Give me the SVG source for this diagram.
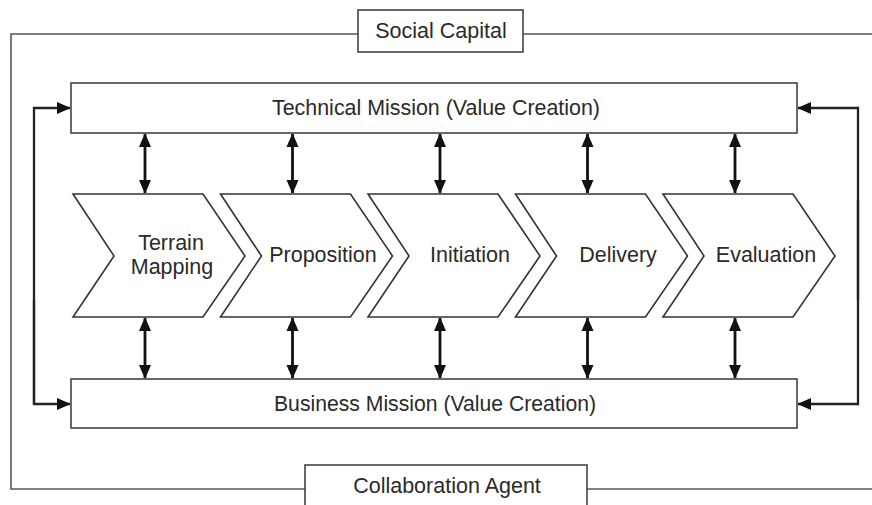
<svg xmlns="http://www.w3.org/2000/svg" width="872" height="505" viewBox="0 0 872 505">
<defs>
<style>
.frame{fill:none;stroke:#555;stroke-width:1.6}
.box{fill:#fff;stroke:#444;stroke-width:1.6}
.chev{fill:#fff;stroke:#333;stroke-width:1.6}
.t{font-family:"Liberation Sans",Arial,sans-serif;font-size:21.5px;fill:#2a2a2a;text-anchor:middle}
.arr{fill:none;stroke:#111;stroke-width:2.8}
.fb{fill:none;stroke:#222;stroke-width:2.3}
</style>
<marker id="ah" viewBox="0 0 12 14" refX="13" refY="7" markerWidth="12" markerHeight="14" markerUnits="userSpaceOnUse" orient="auto-start-reverse">
<path d="M0,1 L14,7 L0,13 Z" fill="#111"/>
</marker>
</defs>
<rect width="872" height="505" fill="#fff"/>
<g id="connectors">
<path class="frame" d="M358,34 H11 V489 H305"/>
<path class="frame" d="M523,34 H872"/>
<path class="frame" d="M587,489 H872"/>
<path class="fb" d="M34,404 V108 H70" marker-end="url(#ah)"/>
<path class="fb" d="M34,300 V404 H70" marker-end="url(#ah)"/>
<path class="fb" d="M858,300 V108 H798" marker-end="url(#ah)"/>
<path class="fb" d="M858,200 V404 H798" marker-end="url(#ah)"/>
<line class="arr" x1="145" y1="134" x2="145" y2="193" marker-start="url(#ah)" marker-end="url(#ah)"/>
<line class="arr" x1="292.5" y1="134" x2="292.5" y2="193" marker-start="url(#ah)" marker-end="url(#ah)"/>
<line class="arr" x1="440" y1="134" x2="440" y2="193" marker-start="url(#ah)" marker-end="url(#ah)"/>
<line class="arr" x1="587.5" y1="134" x2="587.5" y2="193" marker-start="url(#ah)" marker-end="url(#ah)"/>
<line class="arr" x1="735" y1="134" x2="735" y2="193" marker-start="url(#ah)" marker-end="url(#ah)"/>
<line class="arr" x1="145" y1="318" x2="145" y2="378" marker-start="url(#ah)" marker-end="url(#ah)"/>
<line class="arr" x1="292.5" y1="318" x2="292.5" y2="378" marker-start="url(#ah)" marker-end="url(#ah)"/>
<line class="arr" x1="440" y1="318" x2="440" y2="378" marker-start="url(#ah)" marker-end="url(#ah)"/>
<line class="arr" x1="587.5" y1="318" x2="587.5" y2="378" marker-start="url(#ah)" marker-end="url(#ah)"/>
<line class="arr" x1="735" y1="318" x2="735" y2="378" marker-start="url(#ah)" marker-end="url(#ah)"/>
</g>
<g id="social-capital">
<rect class="box" x="358" y="10" width="165" height="42"/>
<text class="t" x="441" y="38">Social Capital</text>
</g>
<g id="collaboration-agent">
<rect class="box" x="305" y="465" width="282" height="45"/>
<text class="t" x="447" y="493">Collaboration Agent</text>
</g>
<g id="technical-mission">
<rect class="box" x="71" y="83" width="726" height="50"/>
<text class="t" x="436" y="115" textLength="328" lengthAdjust="spacingAndGlyphs">Technical Mission (Value Creation)</text>
</g>
<g id="business-mission">
<rect class="box" x="71" y="379" width="726" height="49"/>
<text class="t" x="435" y="411" textLength="322" lengthAdjust="spacingAndGlyphs">Business Mission (Value Creation)</text>
</g>
<g id="terrain-mapping">
<polygon class="chev" points="73,194 203,194 245,256 203,317 73,317 114,256"/>
<text class="t" x="171" y="250">Terrain</text>
<text class="t" x="172" y="274">Mapping</text>
</g>
<g id="proposition">
<polygon class="chev" points="220.5,194 350.5,194 392.5,256 350.5,317 220.5,317 261.5,256"/>
<text class="t" x="323" y="262">Proposition</text>
</g>
<g id="initiation">
<polygon class="chev" points="368,194 498,194 540,256 498,317 368,317 409,256"/>
<text class="t" x="470" y="262">Initiation</text>
</g>
<g id="delivery">
<polygon class="chev" points="515.5,194 645.5,194 687.5,256 645.5,317 515.5,317 556.5,256"/>
<text class="t" x="618" y="262">Delivery</text>
</g>
<g id="evaluation">
<polygon class="chev" points="663,194 793,194 835,256 793,317 663,317 704,256"/>
<text class="t" x="766" y="262">Evaluation</text>
</g>
</svg>
